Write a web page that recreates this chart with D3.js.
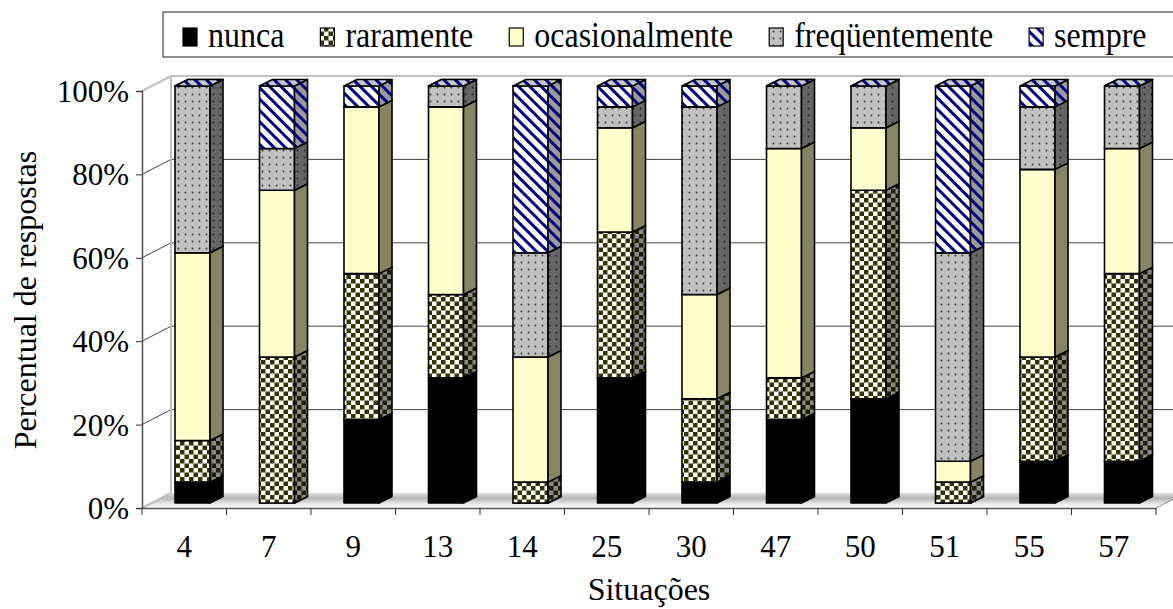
<!DOCTYPE html>
<html><head><meta charset="utf-8">
<script src="https://cdn.jsdelivr.net/npm/d3@7"></script>
<style>body{margin:0;background:#fff}svg{display:block}text{font-family:'Liberation Serif',serif}</style>
</head><body><svg id="c" width="1173" height="609"></svg>
<script>
const categories = ["4","7","9","13","14","25","30","47","50","51","55","57"];
const seriesNames = ["nunca","raramente","ocasionalmente","freqüentemente","sempre"];
const nunca          = [5, 0, 20, 30, 0, 30, 5, 20, 25, 0, 10, 10];
const raramente      = [10,35,35, 20, 5, 35, 20,10, 50, 5, 25, 45];
const ocasionalmente = [45,40,40, 45, 30,25, 25,55, 15, 5, 45, 30];
const frequentemente = [40,10, 0,  5, 25, 5, 45,15, 10,50, 15, 15];
const sempre         = [0, 15, 5,  0, 40, 5,  5, 0,  0,40,  5,  0];
const yTicks = [0,20,40,60,80,100];
const yTitle = "Percentual de respostas";
const xTitle = "Situações";
const FONT = "Liberation Serif";

const seriesValues = [nunca, raramente, ocasionalmente, frequentemente, sempre];
const rows = categories.map((c,i)=>{const r={cat:c};seriesNames.forEach((s,k)=>r[s]=seriesValues[k][i]);return r;});
const stacked = d3.stack().keys(seriesNames)(rows);

const svg = d3.select("#c");
const defs = svg.append("defs");
function checker(id, bg, fg){
  const p=defs.append("pattern").attr("id",id).attr("width",9).attr("height",9).attr("patternUnits","userSpaceOnUse");
  p.append("rect").attr("width",9).attr("height",9).attr("fill",bg);
  p.append("rect").attr("width",4.5).attr("height",4.5).attr("fill",fg);
  p.append("rect").attr("x",4.5).attr("y",4.5).attr("width",4.5).attr("height",4.5).attr("fill",fg);
}
checker("rarF","#ffffff","#333300");
checker("rarS","#8a8a8a","#1f1f00");
checker("rarT","#e0e0e0","#333300");
function dots(id,bg,fg){
  const p=defs.append("pattern").attr("id",id).attr("width",7).attr("height",7).attr("patternUnits","userSpaceOnUse");
  p.append("rect").attr("width",7).attr("height",7).attr("fill",bg);
  p.append("circle").attr("cx",3.5).attr("cy",3.5).attr("r",0.9).attr("fill",fg);
}
dots("frqF","#c0c0c0","#333");
dots("frqS","#656565","#222");
dots("frqT","#d4d4d4","#333");
function stripes(id,bg,fg){
  const p=defs.append("pattern").attr("id",id).attr("width",8).attr("height",8).attr("patternUnits","userSpaceOnUse").attr("patternTransform","rotate(-45)");
  p.append("rect").attr("width",8).attr("height",8).attr("fill",bg);
  p.append("rect").attr("x",0).attr("width",3).attr("height",8).attr("fill",fg);
}
stripes("semF","#ffffff","#000080");
stripes("semS","#9a9a9a","#000080");
stripes("semT","#c8c8c8","#000080");
const fg = defs.append("linearGradient").attr("id","floor").attr("x1",0).attr("y1",0).attr("x2",0).attr("y2",1);
[[0,"#e2e2e2"],[0.35,"#b4b4b4"],[0.75,"#ececec"],[1,"#fcfcfc"]].forEach(([o,c])=>fg.append("stop").attr("offset",o).attr("stop-color",c));

const fills = {
  "nunca":{f:"#000",s:"#000",t:"#000"},
  "raramente":{f:"url(#rarF)",s:"url(#rarS)",t:"url(#rarT)"},
  "ocasionalmente":{f:"#ffffcc",s:"#858564",t:"#ffffcc"},
  "freqüentemente":{f:"url(#frqF)",s:"url(#frqS)",t:"url(#frqT)"},
  "sempre":{f:"url(#semF)",s:"url(#semS)",t:"url(#semT)"}
};

const X0=142, X1=1156, Y0=508, Y1=91;
const DX=29, DY=15;
const x = d3.scaleBand().domain(categories).range([X0,X1]).padding(0);
const y = d3.scaleLinear().domain([0,100]).range([Y0,Y1]);

svg.append("path").attr("d",`M${X0},${Y0}L${X1},${Y0}L${X1+DX},${Y0-DY}L${X0+DX},${Y0-DY}Z`).attr("fill","url(#floor)");
yTicks.forEach(t=>{
  const yy=y(t);
  const edge=(t===0||t===100);
  const col = edge?"#c0c0c0":"#444";
  svg.append("line").attr("x1",X0).attr("y1",yy).attr("x2",X0+DX).attr("y2",yy-DY).attr("stroke",col).attr("stroke-width",edge?2:1);
  if(t>0) svg.append("line").attr("x1",X0+DX).attr("y1",yy-DY).attr("x2",X1+DX).attr("y2",yy-DY).attr("stroke",col).attr("stroke-width",edge?2:1);
});
svg.append("line").attr("x1",X0+DX).attr("y1",Y1-DY).attr("x2",X0+DX).attr("y2",Y0-DY).attr("stroke","#c0c0c0").attr("stroke-width",2);
svg.append("line").attr("x1",X1).attr("y1",Y0).attr("x2",X1+DX).attr("y2",Y0-DY).attr("stroke","#888").attr("stroke-width",1);

const BOFF=33, BW=35, BDY=5, SDX=13, SDY=6.5;
const g = svg.append("g");
categories.forEach((c,i)=>{
  const bx = x(c)+BOFF;
  stacked.forEach(layer=>{
    const d=layer[i]; const key=layer.key;
    const yb=y(d[0])-BDY, yt=y(d[1])-BDY;
    const f=fills[key];
    const sw=1.6;
    if(yb-yt>0){
      g.append("rect").attr("x",bx).attr("y",yt).attr("width",BW).attr("height",yb-yt).attr("fill",f.f).attr("stroke","#000").attr("stroke-width",sw).attr("stroke-linejoin","round");
      g.append("path").attr("d",`M${bx+BW},${yb}L${bx+BW+SDX},${yb-SDY}L${bx+BW+SDX},${yt-SDY}L${bx+BW},${yt}Z`).attr("fill",f.s).attr("stroke","#000").attr("stroke-width",sw).attr("stroke-linejoin","round");
    }
    g.append("path").attr("d",`M${bx},${yt}L${bx+BW},${yt}L${bx+BW+SDX},${yt-SDY}L${bx+SDX},${yt-SDY}Z`).attr("fill",f.t).attr("stroke","#000").attr("stroke-width",sw).attr("stroke-linejoin","round");
  });
});

const yAxis = d3.axisLeft(y).tickValues(yTicks).tickSize(6).tickFormat(d=>d+"%");
const ya = svg.append("g").attr("transform",`translate(${X0},0)`).call(yAxis).attr("font-family",FONT);
ya.select(".domain").attr("stroke","#555").attr("stroke-width",1.5);
ya.selectAll(".tick line").attr("stroke","#333");
ya.selectAll(".tick text").attr("font-size",31).attr("font-family",FONT).attr("fill","#000").attr("x",-13).attr("dy","0.34em");

const xAxis = d3.axisBottom(x).tickSize(0).tickFormat(d=>d);
const xa = svg.append("g").attr("transform",`translate(0,${Y0})`).call(xAxis).attr("font-family",FONT);
xa.select(".domain").attr("stroke","#555").attr("stroke-width",1.5);
xa.selectAll(".tick text").attr("font-size",31).attr("font-family",FONT).attr("fill","#000").attr("y",49).attr("dy",0);
const bounds = categories.map(c=>x(c)).concat([X1]);
xa.selectAll(".bt").data(bounds).enter().append("line").attr("x1",d=>d).attr("x2",d=>d).attr("y1",0).attr("y2",7).attr("stroke","#333");

svg.append("text").attr("x",649).attr("y",600).attr("text-anchor","middle").attr("font-family",FONT).attr("font-size",32).text(xTitle);
svg.append("text").attr("transform","translate(36,300) rotate(-90)").attr("text-anchor","middle").attr("font-family",FONT).attr("font-size",32).text(yTitle);

const lg = svg.append("g");
lg.append("rect").attr("x",163).attr("y",12).attr("width",1014).attr("height",45).attr("fill","#fff").attr("stroke","#444").attr("stroke-width",1.2);
let lx=183;
seriesNames.forEach(s=>{
  lg.append("rect").attr("x",lx).attr("y",28).attr("width",14).attr("height",18).attr("fill",fills[s].f).attr("stroke","#000").attr("stroke-width",1.2);
  const t=lg.append("text").attr("transform",`translate(${lx+25},47) scale(1,1.15)`).attr("font-family",FONT).attr("font-size",32).text(s);
  const w=t.node().getComputedTextLength();
  lx = lx+25+w+36;
});
</script></body></html>
